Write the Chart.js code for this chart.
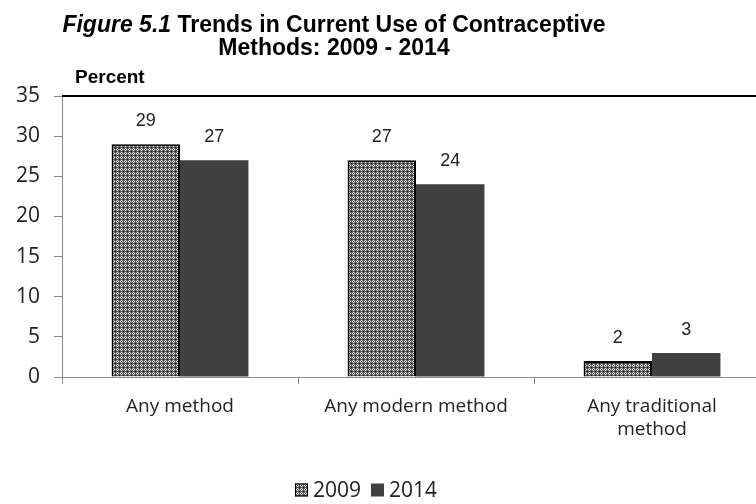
<!DOCTYPE html>
<html>
<head>
<meta charset="utf-8">
<script src="https://cdn.jsdelivr.net/npm/chart.js@4"></script>
<style>
html,body{margin:0;padding:0;background:#fff;overflow:hidden;}
#wrap{width:772px;height:504px;position:relative;}
</style>
</head>
<body>
<div id="wrap"><canvas id="c" width="772" height="504"></canvas></div>
<script>
const categories = [["Any method"], ["Any modern method"], ["Any traditional", "method"]];
const seriesNames = ["2009", "2014"];
const values2009 = [29, 27, 2];
const values2014 = [27, 24, 3];
const yTicks = [0, 5, 10, 15, 20, 25, 30, 35];

function makePattern() {
  const t = document.createElement('canvas');
  t.width = 4; t.height = 4;
  const g = t.getContext('2d');
  g.fillStyle = '#5a5a5a'; g.fillRect(0, 0, 4, 4);
  g.fillStyle = '#ffffff';
  g.fillRect(1, 0, 1, 1); g.fillRect(0, 1, 1, 1); g.fillRect(2, 1, 1, 1); g.fillRect(1, 2, 1, 1);
  g.fillStyle = '#1a1a1a';
  g.fillRect(3, 3, 1, 1); g.fillRect(1, 1, 1, 1);
  return document.getElementById('c').getContext('2d').createPattern(t, 'repeat');
}
const pat = makePattern();

const TITLE_CX = 334;
const tickFont = "'Open Sans', sans-serif";

const decor = {
  id: 'decor',
  afterDraw(chart) {
    const ctx = chart.ctx;
    const ca = chart.chartArea;
    ctx.save();
    ctx.strokeStyle = '#000';
    ctx.lineWidth = 2;
    ctx.beginPath(); ctx.moveTo(ca.left, ca.top); ctx.lineTo(ca.right, ca.top); ctx.stroke();
    ctx.fillStyle = '#000';
    ctx.textBaseline = 'alphabetic';
    const f1 = "italic bold 23px 'Liberation Sans', Arial, sans-serif";
    const f2 = "bold 23px 'Liberation Sans', Arial, sans-serif";
    const a = 'Figure 5.1', b = ' Trends in Current Use of Contraceptive';
    ctx.font = f1; const wa = ctx.measureText(a).width;
    ctx.font = f2; const wb = ctx.measureText(b).width;
    let x0 = TITLE_CX - (wa + wb) / 2;
    ctx.textAlign = 'left';
    ctx.font = f1; ctx.fillText(a, x0, 32);
    ctx.font = f2; ctx.fillText(b, x0 + wa, 32);
    ctx.textAlign = 'center';
    ctx.fillText('Methods: 2009 - 2014', TITLE_CX, 55);
    ctx.textAlign = 'left';
    ctx.font = "bold 19px 'Liberation Sans', Arial, sans-serif";
    ctx.fillText('Percent', 75, 83);
    ctx.font = "18px 'Liberation Sans', Arial, sans-serif";
    ctx.fillStyle = '#222';
    ctx.textAlign = 'center';
    ctx.textBaseline = 'middle';
    chart.data.datasets.forEach((ds, i) => {
      const meta = chart.getDatasetMeta(i);
      meta.data.forEach((el, j) => {
        ctx.fillText(String(ds.data[j]), el.x, el.y - 23);
      });
    });
    ctx.font = "21px " + tickFont;
    ctx.textBaseline = 'middle';
    ctx.textAlign = 'left';
    const items = chart.data.datasets.map(ds => ({label: ds.label, w: ctx.measureText(ds.label).width, fill: ds.backgroundColor}));
    const box = 13, gapIn = 5, gapOut = 10;
    let total = 0;
    items.forEach((it, k) => { total += box + gapIn + it.w + (k < items.length - 1 ? gapOut : 0); });
    let lx = 366 - total / 2;
    const ly = 490;
    items.forEach(it => {
      ctx.fillStyle = it.fill;
      ctx.fillRect(lx, ly - box / 2, box, box);
      if (it.label === '2009') { ctx.strokeStyle = '#000'; ctx.lineWidth = 1; ctx.strokeRect(lx + 0.5, ly - box / 2 + 0.5, box - 1, box - 1); }
      ctx.fillStyle = '#222';
      ctx.fillText(it.label, lx + box + gapIn, ly + 1);
      lx += box + gapIn + it.w + gapOut;
    });
    ctx.restore();
  }
};

new Chart(document.getElementById('c'), {
  type: 'bar',
  data: {
    labels: categories,
    datasets: [
      { label: seriesNames[0], data: values2009, backgroundColor: pat, borderColor: '#000', borderWidth: 2 },
      { label: seriesNames[1], data: values2014, backgroundColor: '#404040', borderColor: '#404040', borderWidth: 0 }
    ]
  },
  plugins: [decor],
  options: {
    responsive: false,
    animation: false,
    layout: { padding: { top: 96, left: 0, right: 2, bottom: 0 } },
    plugins: { legend: { display: false }, tooltip: { enabled: false }, title: { display: false } },
    datasets: { bar: { categoryPercentage: 0.58, barPercentage: 1.0 } },
    scales: {
      x: {
        grid: { display: true, offset: true, drawOnChartArea: false, drawTicks: true, tickLength: 7, color: '#888' },
        border: { color: '#888', width: 1 },
        ticks: { font: { family: tickFont, size: 19 }, color: '#222', padding: 11, maxRotation: 0, autoSkip: false },
        afterFit(s) { s.height = 127; }
      },
      y: {
        min: 0, max: 35,
        afterBuildTicks(s) { s.ticks = yTicks.map(v => ({ value: v })); },
        grid: { display: true, drawOnChartArea: false, drawTicks: true, tickLength: 8, color: '#888' },
        border: { color: '#888', width: 1 },
        ticks: { font: { family: tickFont, size: 21 }, color: '#222', padding: 14 },
        afterFit(s) { s.width = 62; }
      }
    }
  }
});
</script>
</body>
</html>
